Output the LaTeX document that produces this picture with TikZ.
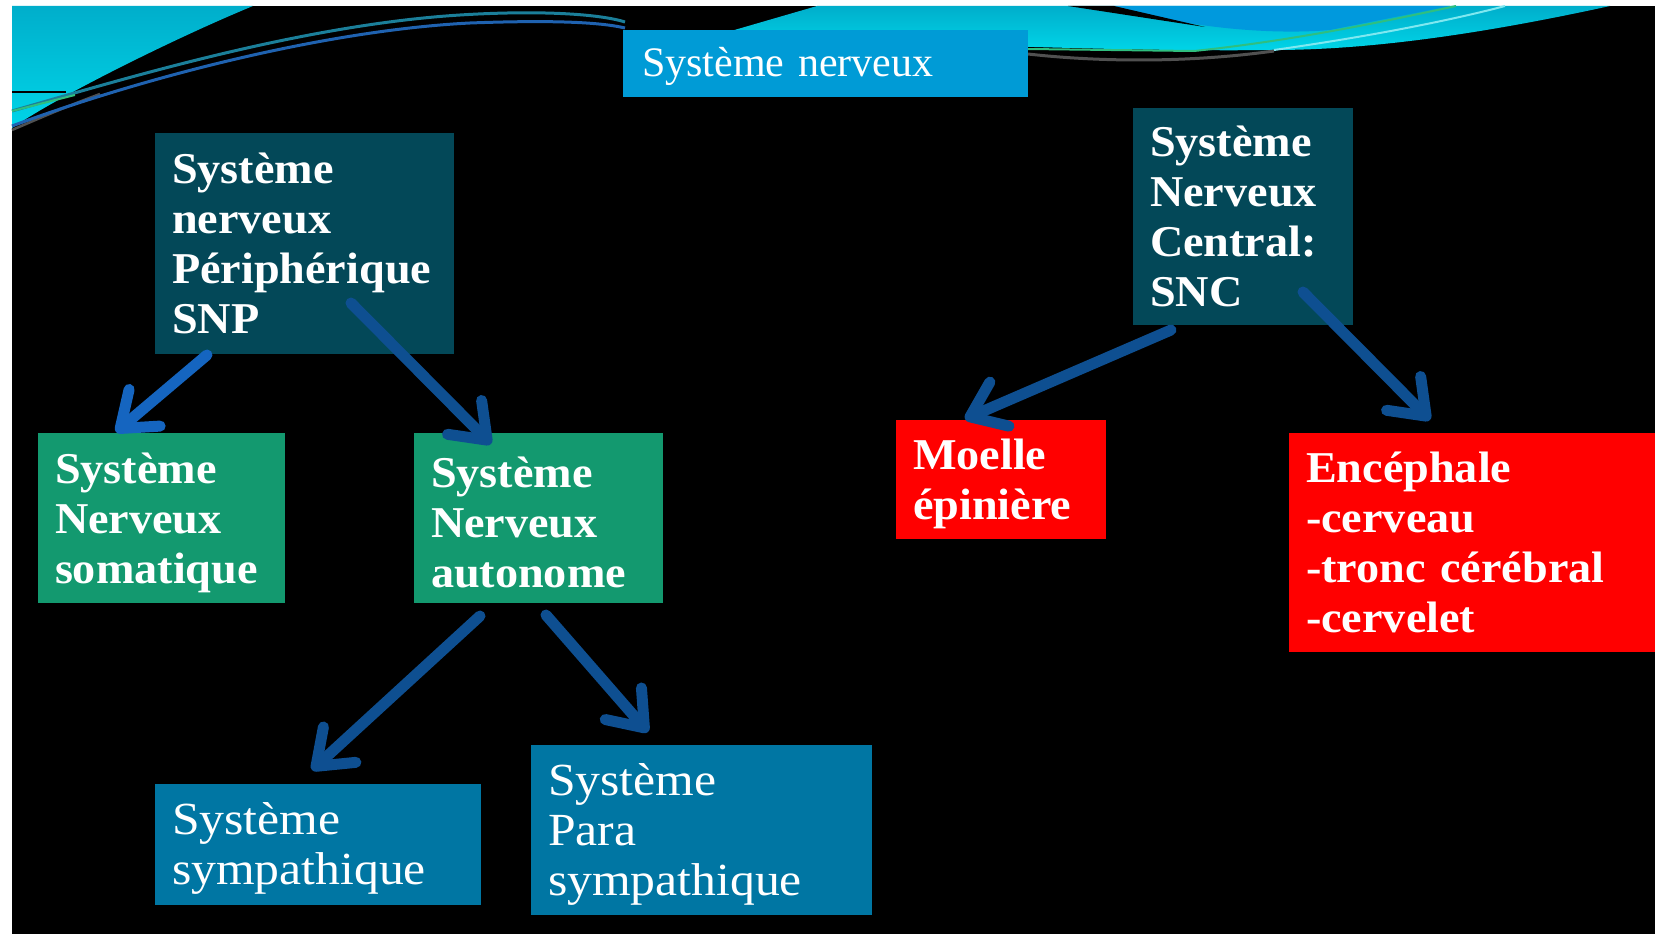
\documentclass[tikz,border=0pt]{standalone}
\usepackage{fontspec}
\setmainfont{Liberation Serif}
\newfontfamily\boxfam{Liberation Serif}[FakeStretch=1.05]
\newfontfamily\botfam{Liberation Serif}[FakeStretch=1.08]
\usetikzlibrary{arrows.meta,calc}
\definecolor{tealbox}{HTML}{034858}
\definecolor{greenbox}{HTML}{13996F}
\definecolor{redbox}{HTML}{FF0000}
\definecolor{bluebox}{HTML}{0076A3}
\definecolor{titlebox}{HTML}{009BD6}
\definecolor{arrowblue}{HTML}{0E4F91}
\definecolor{arrowlight}{HTML}{1565C0}
\definecolor{cyanA}{HTML}{00AECB}
\definecolor{cyanB}{HTML}{00D5E8}
\definecolor{bandblue}{HTML}{0099DD}
\definecolor{wteal}{HTML}{1B7F9A}
\definecolor{wblue}{HTML}{1F62B0}
\definecolor{wgreen}{HTML}{2FBF7F}
\definecolor{wgray}{HTML}{505050}
\definecolor{wlight}{HTML}{7FE8F0}
\newcommand{\bxfont}{\boxfam\bfseries\fontsize{44}{50}\selectfont}
\newcommand{\rgfont}{\botfam\fontsize{46}{50}\selectfont}
\begin{document}
\begin{tikzpicture}[x=1pt,y=-1pt,
  box/.style={rectangle, anchor=north west, inner xsep=17pt, inner ysep=0pt,
    outer sep=0pt, align=left, text=white, font=\bxfont},
  pad/.style={execute at begin node={\rule{0pt}{#1}}},
  arr/.style={line width=11pt, draw=arrowblue, line cap=round,
    -{Straight Barb[length=32pt,width=48pt,round]}}]
\useasboundingbox (0,0) rectangle (1655,934);
\fill[white] (0,0) rectangle (1655,934);
\fill[black] (12,6) rectangle (1655,934);
% top-left cyan wave
\shade[top color=cyanA, bottom color=cyanB] (12,6) -- (253,6) .. controls (180,36) and (60,95) .. (12,128) -- cycle;
\draw[black, line width=1.5pt] (12,92) -- (66,92);
% left wave lines
\draw[wgray, line width=2.5pt] (12,130) .. controls (40,118) and (70,105) .. (100,94);
\draw[wteal, line width=3pt] (12,111) .. controls (120,80) and (300,25) .. (460,15) .. controls (540,10) and (600,14) .. (625,22);
\draw[wblue, line width=3pt] (12,126) .. controls (150,75) and (330,30) .. (470,23) .. controls (550,20) and (600,22) .. (625,28);
\draw[wgreen, line width=2pt] (12,111) -- (75,95);
% right bands
\shade[top color=cyanA, bottom color=cyanB] (817,6) -- (1610,6) .. controls (1500,30) and (1380,50) .. (1274,50) .. controls (1190,51) and (1100,49) .. (1000,46) -- (700,40) -- cycle;
\fill[bandblue] (1114,6) .. controls (1170,24) and (1260,36) .. (1330,30) -- (1450,6) -- cycle;
\fill[black] (1068,6) -- (1114,6) -- (1205,27) -- cycle;
\draw[wlight, line width=2pt] (1274,50) .. controls (1380,35) and (1460,18) .. (1505,6);
\draw[wgreen, line width=2pt] (1028,49) -- (1194,51) .. controls (1300,40) and (1400,18) .. (1456,6);
\draw[wgray, line width=3pt] (1028,54) .. controls (1090,61) and (1180,64) .. (1274,51);
% title
\node[box, pad=36pt, fill=titlebox, font=\fontsize{42}{50}\selectfont, inner xsep=19pt,
  text width=367pt, minimum height=67pt] (title) at (623,30) {Système nerveux};
% boxes
\node[box, fill=tealbox, text width=265pt, minimum height=221pt] (snp) at (155,133)
  {Système\\nerveux\\Périphérique\\SNP};
\node[box, fill=tealbox, text width=186pt, minimum height=217pt] (snc) at (1133,108)
  {Système\\Nerveux\\Central:\\SNC};
\node[box, pad=40pt, fill=greenbox, text width=213pt, minimum height=170pt] (soma) at (38,433)
  {Système\\Nerveux\\somatique};
\node[box, pad=40pt, fill=greenbox, text width=215pt, minimum height=170pt] (auto) at (414,433)
  {Système\\Nerveux\\autonome};
\node[box, pad=40pt, fill=redbox, text width=176pt, minimum height=119pt] (moelle) at (896,420)
  {Moelle\\épinière};
\node[box, fill=redbox, text width=332pt, minimum height=219pt] (enc) at (1289,433)
  {Encéphale\\-cerveau\\-tronc cérébral\\-cervelet};
\node[box, pad=40pt, fill=bluebox, font=\rgfont, text width=292pt, minimum height=121pt] (symp) at (155,784)
  {Système\\sympathique};
\node[box, pad=40pt, fill=bluebox, font=\rgfont, text width=307pt, minimum height=170pt] (para) at (531,745)
  {Système\\Para\\sympathique};
% arrows
\draw[arr, draw=arrowlight] ($(snp.south west)+(52,1)$) -- ($(soma.north west)+(78,-1)$);
\draw[arr] ($(snp.north west)+(196,170)$) -- ($(auto.north west)+(77,11)$);
\draw[arr] ($(auto.south west)+(66,13)$) -- ($(symp.north west)+(157,-14)$);
\draw[arr] ($(auto.south west)+(132,12)$) -- ($(para.north west)+(117,-13)$);
\draw[arr] ($(snc.south west)+(38,5)$) -- ($(moelle.north west)+(69,-1)$);
\draw[arr] ($(snc.south west)+(170,-33)$) -- ($(enc.north west)+(141,-13)$);
\end{tikzpicture}
\end{document}
